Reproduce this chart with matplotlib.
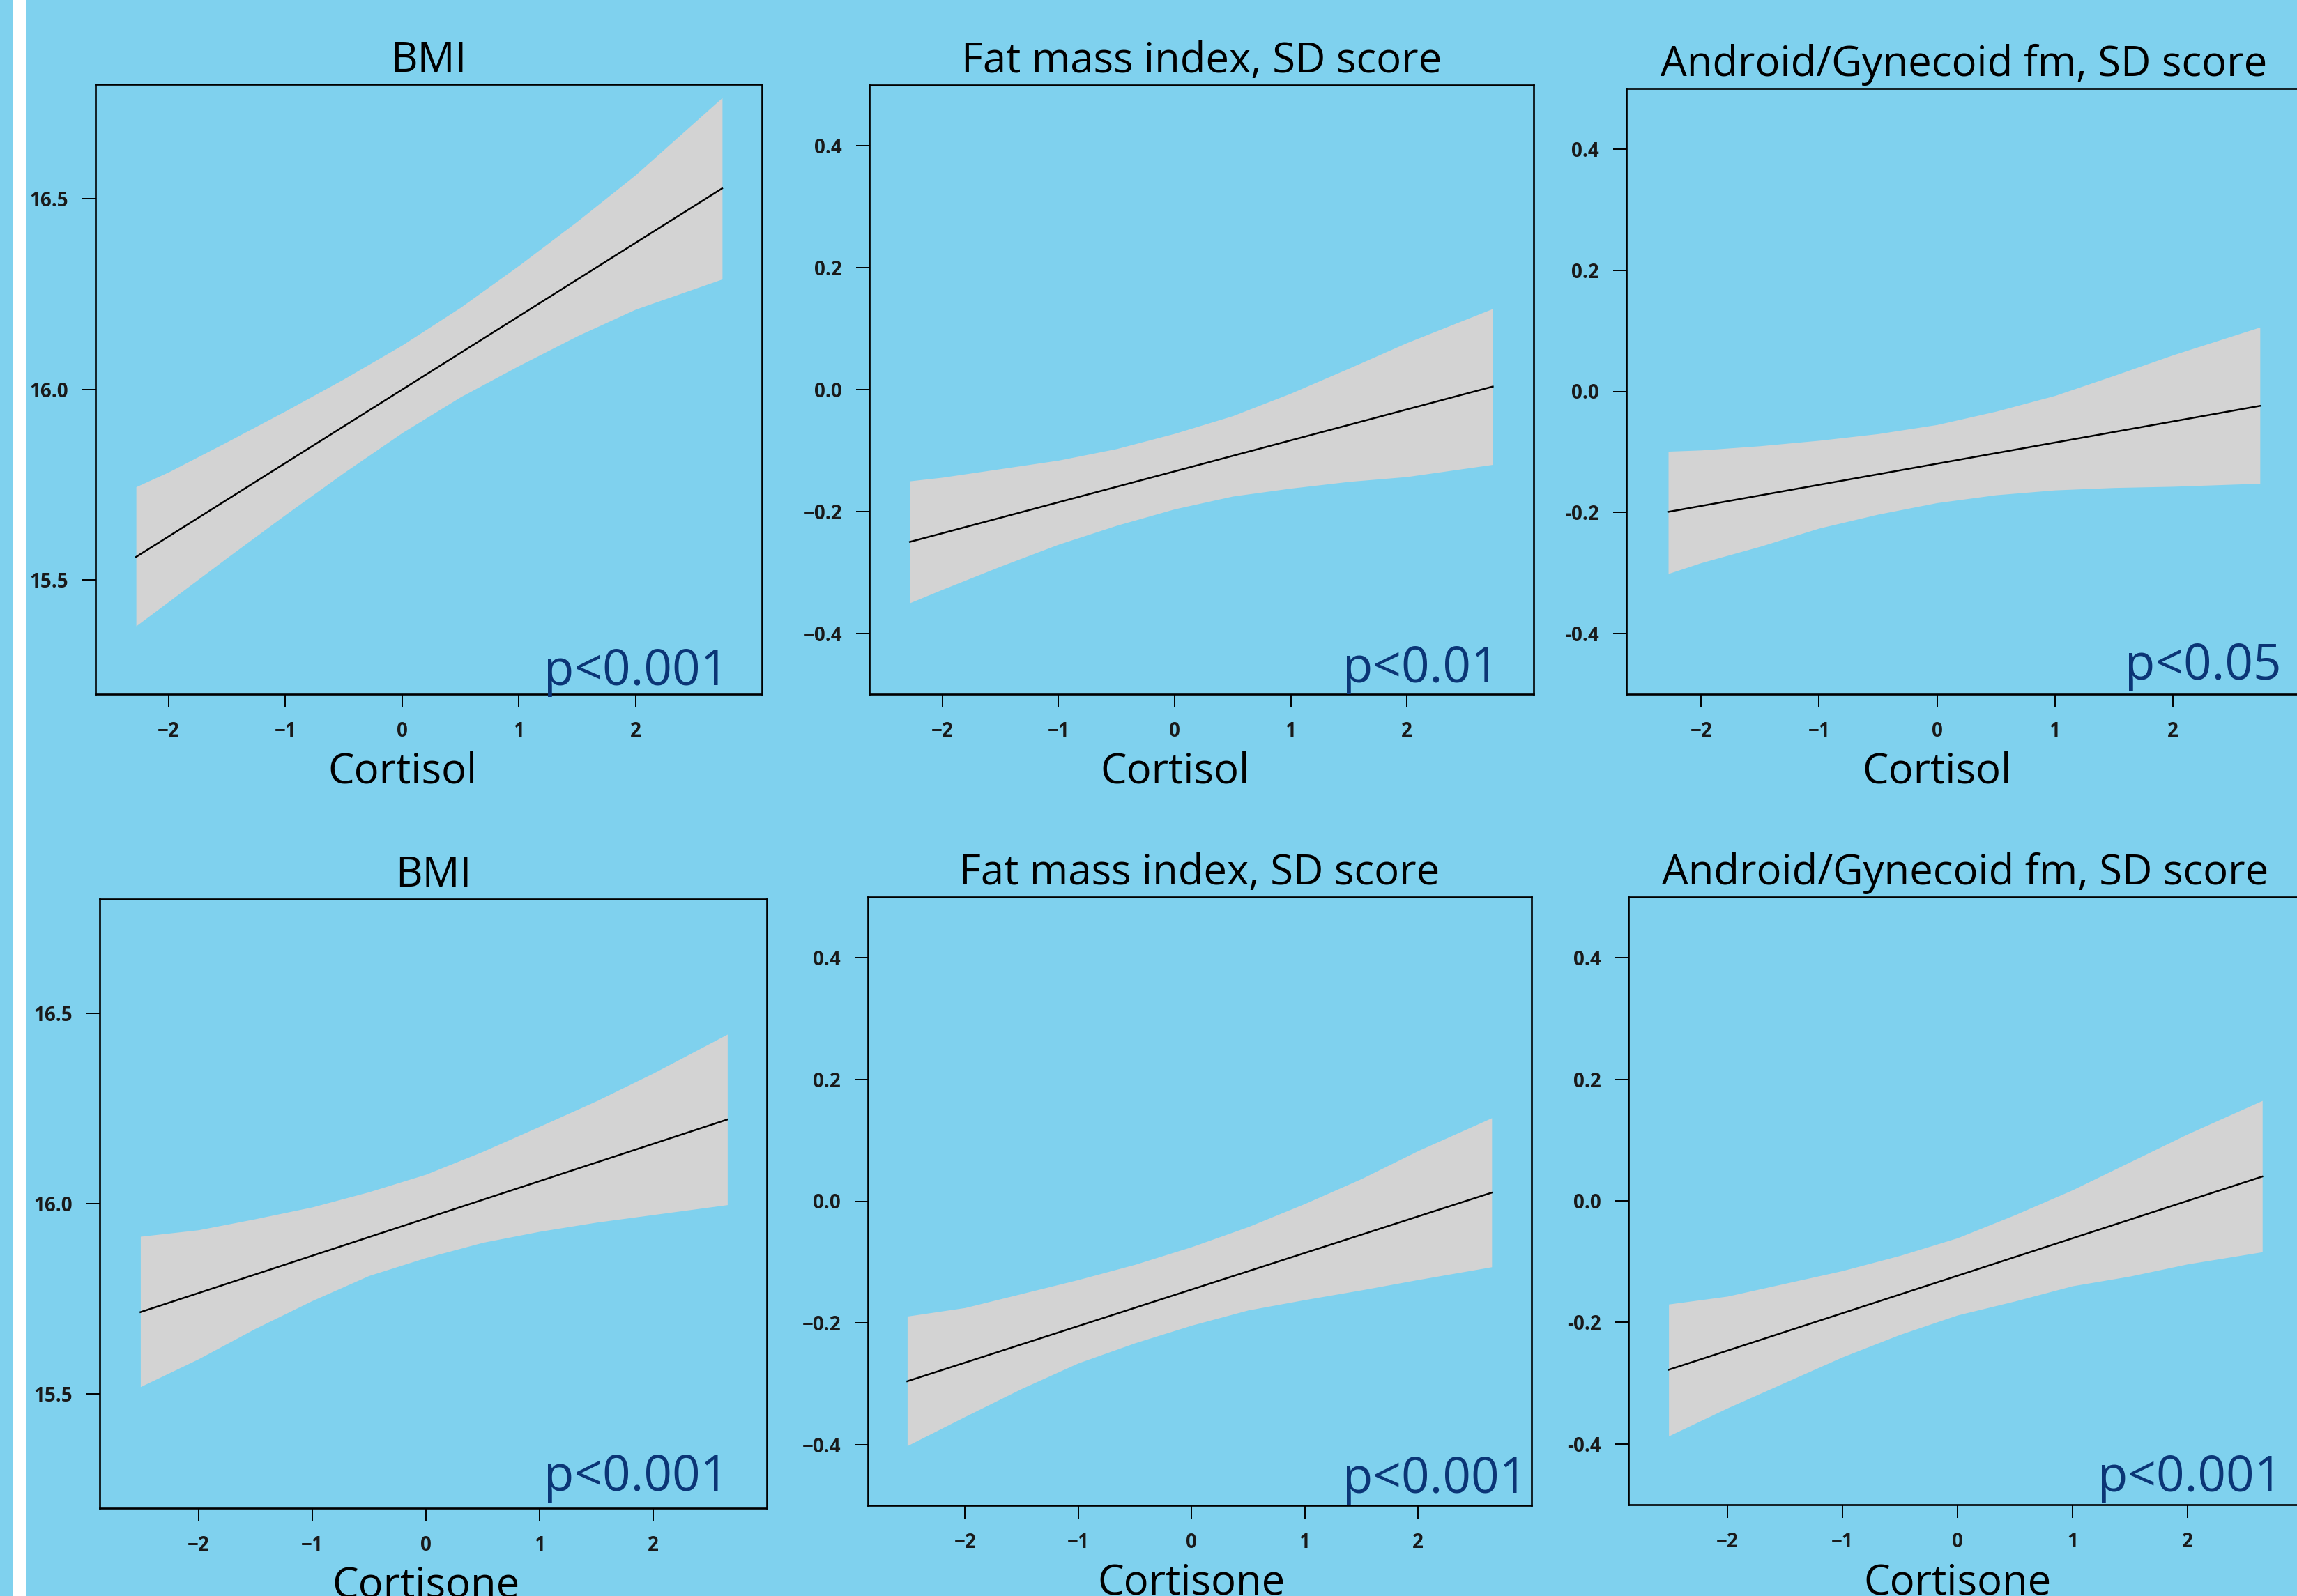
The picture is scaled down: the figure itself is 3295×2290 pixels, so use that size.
import matplotlib
matplotlib.use("Agg")
import matplotlib.pyplot as plt
import matplotlib.transforms as mtransforms
from matplotlib.patches import Rectangle

# ---------------- data ----------------
cortisol_x = [-2.28, -2.0, -1.5, -1.0, -0.5, 0.0, 0.5, 1.0, 1.5, 2.0, 2.74]
cortisone_x = [-2.51, -2.0, -1.5, -1.0, -0.5, 0.0, 0.5, 1.0, 1.5, 2.0, 2.65]

# BMI ~ cortisol
bmi_cortisol_fit = [15.56, 16.527]
bmi_cortisol_upper = [15.744, 15.783, 15.862, 15.943, 16.027, 16.116, 16.215, 16.325, 16.441, 16.563, 16.765]
bmi_cortisol_lower = [15.379, 15.443, 15.558, 15.671, 15.781, 15.886, 15.980, 16.062, 16.140, 16.210, 16.289]

# fat mass index ~ cortisol
fmi_cortisol_fit = [-0.250, 0.005]
fmi_cortisol_upper = [-0.150, -0.144, -0.130, -0.116, -0.097, -0.072, -0.043, -0.006, 0.035, 0.077, 0.133]
fmi_cortisol_lower = [-0.350, -0.328, -0.290, -0.254, -0.223, -0.196, -0.175, -0.162, -0.151, -0.143, -0.123]

# android/gynecoid ~ cortisol
ag_cortisol_fit = [-0.199, -0.024]
ag_cortisol_upper = [-0.099, -0.097, -0.090, -0.081, -0.070, -0.055, -0.033, -0.007, 0.026, 0.060, 0.106]
ag_cortisol_lower = [-0.301, -0.283, -0.256, -0.226, -0.203, -0.184, -0.171, -0.163, -0.159, -0.157, -0.152]

# BMI ~ cortisone
bmi_cortisone_fit = [15.715, 16.221]
bmi_cortisone_upper = [15.914, 15.931, 15.960, 15.991, 16.031, 16.077, 16.137, 16.203, 16.270, 16.343, 16.445]
bmi_cortisone_lower = [15.519, 15.592, 15.672, 15.745, 15.811, 15.858, 15.898, 15.927, 15.951, 15.971, 15.997]

# fat mass index ~ cortisone
fmi_cortisone_fit = [-0.296, 0.014]
fmi_cortisone_upper = [-0.189, -0.175, -0.152, -0.129, -0.104, -0.075, -0.042, -0.004, 0.037, 0.083, 0.137]
fmi_cortisone_lower = [-0.402, -0.354, -0.308, -0.266, -0.233, -0.204, -0.179, -0.162, -0.146, -0.129, -0.108]

# android/gynecoid ~ cortisone
ag_cortisone_fit = [-0.278, 0.040]
ag_cortisone_upper = [-0.170, -0.157, -0.136, -0.115, -0.090, -0.061, -0.023, 0.018, 0.064, 0.110, 0.165]
ag_cortisone_lower = [-0.387, -0.341, -0.299, -0.257, -0.220, -0.188, -0.165, -0.140, -0.124, -0.104, -0.084]

titles = ["BMI", "Fat mass index, SD score", "Android/Gynecoid fm, SD score"]
xlabels = ["Cortisol", "Cortisone"]
p_values = [["p<0.001", "p<0.01", "p<0.05"],
            ["p<0.001", "p<0.001", "p<0.001"]]

bmi_ticks = [15.5, 16.0, 16.5]
sd_ticks = [-0.4, -0.2, 0.0, 0.2, 0.4]
x_ticks = [-2, -1, 0, 1, 2]

# ---------------- style / layout ----------------
W, H = 3295, 2290
BG = "#7fd1ee"
BAND = "#d3d3d3"
NAVY = "#0b3576"
FONT = ["Open Sans", "DejaVu Sans"]
plt.rcParams["font.family"] = FONT

# axes boxes in pixels: left, right, top, bottom
boxes = [[(137, 1093, 121, 996), (1247, 2200, 122, 996), (2333, 3301, 127, 996)],
         [(143, 1100, 1290, 2164), (1245, 2197, 1287, 2160), (2336, 3303, 1287, 2159)]]
xlims = [[(-2.627, 3.081), (-2.63, 3.092), (-2.635, 3.09)],
         [(-2.868, 2.997), (-2.857, 3.002), (-2.859, 3.0)]]
# p text: right edge, baseline (pixels)
p_pos = [[(1045, 983), (2150, 979), (3272, 975)],
         [(1045, 2139), (2191, 2142), (3274, 2140)]]

panels = [
    [(cortisol_x, bmi_cortisol_fit, bmi_cortisol_upper, bmi_cortisol_lower),
     (cortisol_x, fmi_cortisol_fit, fmi_cortisol_upper, fmi_cortisol_lower),
     (cortisol_x, ag_cortisol_fit, ag_cortisol_upper, ag_cortisol_lower)],
    [(cortisone_x, bmi_cortisone_fit, bmi_cortisone_upper, bmi_cortisone_lower),
     (cortisone_x, fmi_cortisone_fit, fmi_cortisone_upper, fmi_cortisone_lower),
     (cortisone_x, ag_cortisone_fit, ag_cortisone_upper, ag_cortisone_lower)],
]

fig = plt.figure(figsize=(W / 100, H / 100), dpi=100, facecolor=BG)
# white stripe on the left edge
fig.patches.append(Rectangle((19 / W, 0), 18 / W, 1, transform=fig.transFigure,
                             facecolor="white", edgecolor="none", zorder=0))

for r in range(2):
    for c in range(3):
        left, right, top, bottom = boxes[r][c]
        ax = fig.add_axes([left / W, 1 - bottom / H, (right - left) / W, (bottom - top) / H])
        ax.set_facecolor(BG)
        xs, fit, up, lo = panels[r][c]

        ax.fill_between(xs, lo, up, color=BAND, linewidth=0)
        ax.plot([xs[0], xs[-1]], fit, color="black", lw=1.8)

        ax.set_xlim(*xlims[r][c])
        if c == 0:
            ax.set_ylim(15.2, 16.8)
            ax.set_yticks(bmi_ticks)
            ax.set_yticklabels(["%.1f" % t for t in bmi_ticks])
        else:
            ax.set_ylim(-0.5, 0.5)
            ax.set_yticks(sd_ticks)
            minus = "\u2212" if c == 1 else "-"
            ax.set_yticklabels([("%.1f" % t).replace("-", minus) for t in sd_ticks])
        ax.set_xticks(x_ticks)
        ax.set_xticklabels([str(t).replace("-", "\u2212") for t in x_ticks])

        ax.tick_params(length=14, width=1.4, color="black", labelsize=20, pad=14)
        for lab in ax.get_xticklabels() + ax.get_yticklabels():
            lab.set_fontweight("bold")
            lab.set_color("#1a1a1a")
        for sp in ax.spines.values():
            sp.set_linewidth(1.9)
            sp.set_clip_on(False)

        ax.set_title(titles[c], fontsize=43, pad=13)

        # x label is centred over x = 0
        trans = mtransforms.blended_transform_factory(ax.transData, ax.transAxes)
        ax.text(0, -128 / (bottom - top), xlabels[r], transform=trans,
                ha="center", va="baseline", fontsize=43, clip_on=False)

        px, py = p_pos[r][c]
        fig.text(px / W, 1 - py / H, p_values[r][c], ha="right", va="baseline",
                 fontsize=51, color=NAVY)

fig.savefig("out.png", dpi=100, facecolor=BG)
